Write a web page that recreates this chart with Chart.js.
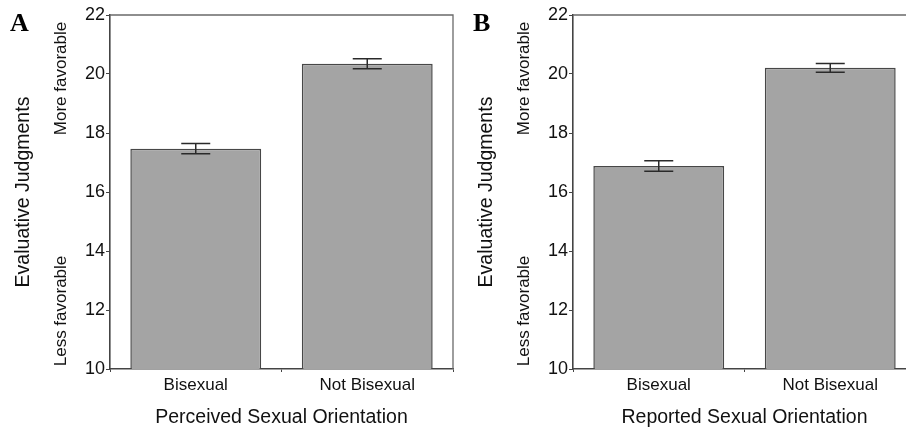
<!DOCTYPE html>
<html>
<head>
<meta charset="utf-8">
<script src="https://cdn.jsdelivr.net/npm/chart.js@4/dist/chart.umd.min.js"></script>
<style>
  html, body { margin: 0; padding: 0; background: #fff; overflow: hidden; width: 906px; height: 430px; }
  canvas { position: absolute; top: 0; }
  #chartA { left: 0; }
  #chartB { left: 463px; }
</style>
</head>
<body>
<canvas id="chartA" width="460" height="430"></canvas>
<canvas id="chartB" width="460" height="430"></canvas>
<script>
// ---- data ----
const categories = ['Bisexual', 'Not Bisexual'];
const perceivedMeans = [17.47, 20.35];
const perceivedErrors = [0.17, 0.17];
const reportedMeans = [16.88, 20.21];
const reportedErrors = [0.18, 0.15];
const yMin = 10, yMax = 22, yStep = 2;
const yTitle = 'Evaluative Judgments';
const upperNote = 'More favorable';
const lowerNote = 'Less favorable';

const FONT = '"Liberation Sans", Arial, Helvetica, sans-serif';

const errorBarPlugin = {
  id: 'errorBars',
  afterDatasetsDraw(chart) {
    const ctx = chart.ctx;
    const yScale = chart.scales.y;
    chart.data.datasets.forEach((ds, di) => {
      const meta = chart.getDatasetMeta(di);
      meta.data.forEach((bar, i) => {
        const v = ds.data[i], e = ds.errors[i];
        const x = bar.x;
        const yTop = yScale.getPixelForValue(v + e);
        const yBot = yScale.getPixelForValue(v - e);
        const half = 14.5;
        ctx.save();
        ctx.strokeStyle = '#2a2a2a';
        ctx.lineWidth = 1.5;
        ctx.beginPath();
        ctx.moveTo(x, yTop); ctx.lineTo(x, yBot);
        ctx.moveTo(x - half, yTop); ctx.lineTo(x + half, yTop);
        ctx.moveTo(x - half, yBot); ctx.lineTo(x + half, yBot);
        ctx.stroke();
        ctx.restore();
      });
    });
  }
};

const framePlugin = {
  id: 'frame',
  afterDraw(chart) {
    const {ctx, chartArea: a} = chart;
    ctx.save();
    ctx.strokeStyle = '#6a6a6a';
    ctx.lineWidth = 1.3;
    ctx.beginPath();
    ctx.moveTo(a.left, a.top);
    ctx.lineTo(a.right, a.top);
    ctx.lineTo(a.right, a.bottom);
    ctx.stroke();
    ctx.restore();
  }
};

const notesPlugin = {
  id: 'notes',
  afterDraw(chart, args, opts) {
    const {ctx, chartArea: a} = chart;
    ctx.save();
    // panel letter
    ctx.fillStyle = '#000';
    ctx.font = 'bold 26px "Liberation Serif", "Times New Roman", serif';
    ctx.textAlign = 'left';
    ctx.textBaseline = 'alphabetic';
    ctx.fillText(opts.letter, 10, 31);
    ctx.restore();
    // side notes
    [[upperNote, a.top + 63.5], [lowerNote, a.bottom - 58]].forEach(([txt, cy]) => {
      ctx.save();
      ctx.font = '17px ' + FONT;
      ctx.textAlign = 'center';
      ctx.textBaseline = 'middle';
      ctx.fillStyle = '#111';
      ctx.translate(61, cy);
      ctx.rotate(-Math.PI / 2);
      ctx.fillText(txt, 0, 0);
      ctx.restore();
    });
  }
};

function makeChart(id, means, errors, xTitle, letter) {
  return new Chart(document.getElementById(id), {
    type: 'bar',
    data: {
      labels: categories,
      datasets: [{
        data: means,
        errors: errors,
        backgroundColor: '#a4a4a4',
        borderColor: '#474747',
        borderWidth: 1.5,
        borderSkipped: 'bottom',
        categoryPercentage: 1.0,
        barPercentage: 0.763
      }]
    },
    options: {
      responsive: false,
      animation: false,
      devicePixelRatio: 1,
      layout: { padding: { top: 15, right: 7, bottom: 0, left: 0 } },
      plugins: {
        legend: { display: false },
        tooltip: { enabled: false },
        notes: { letter: letter }
      },
      scales: {
        x: {
          afterFit(s) { s.height = 61; },
          grid: { drawOnChartArea: false, drawTicks: true, tickLength: 3, color: '#444', offset: true },
          border: { display: true, color: '#444', width: 1.6 },
          ticks: { color: '#111', font: { family: FONT, size: 17 }, padding: 3, maxRotation: 0 },
          title: { display: true, text: xTitle, color: '#111', font: { family: FONT, size: 19.5 }, padding: { top: 0, bottom: 1 } }
        },
        y: {
          min: yMin, max: yMax,
          afterFit(s) { s.width = 110; },
          grid: { drawOnChartArea: false, drawTicks: true, tickLength: 4, color: '#444' },
          border: { display: true, color: '#444', width: 1.6 },
          ticks: { stepSize: yStep, color: '#111', font: { family: FONT, size: 18 }, padding: 1 },
          title: { display: true, text: yTitle, color: '#111', font: { family: FONT, size: 19.5 }, padding: { top: 12, bottom: 0 } }
        }
      }
    },
    plugins: [errorBarPlugin, framePlugin, notesPlugin]
  });
}

makeChart('chartA', perceivedMeans, perceivedErrors, 'Perceived Sexual Orientation', 'A');
makeChart('chartB', reportedMeans, reportedErrors, 'Reported Sexual Orientation', 'B');
</script>
</body>
</html>
